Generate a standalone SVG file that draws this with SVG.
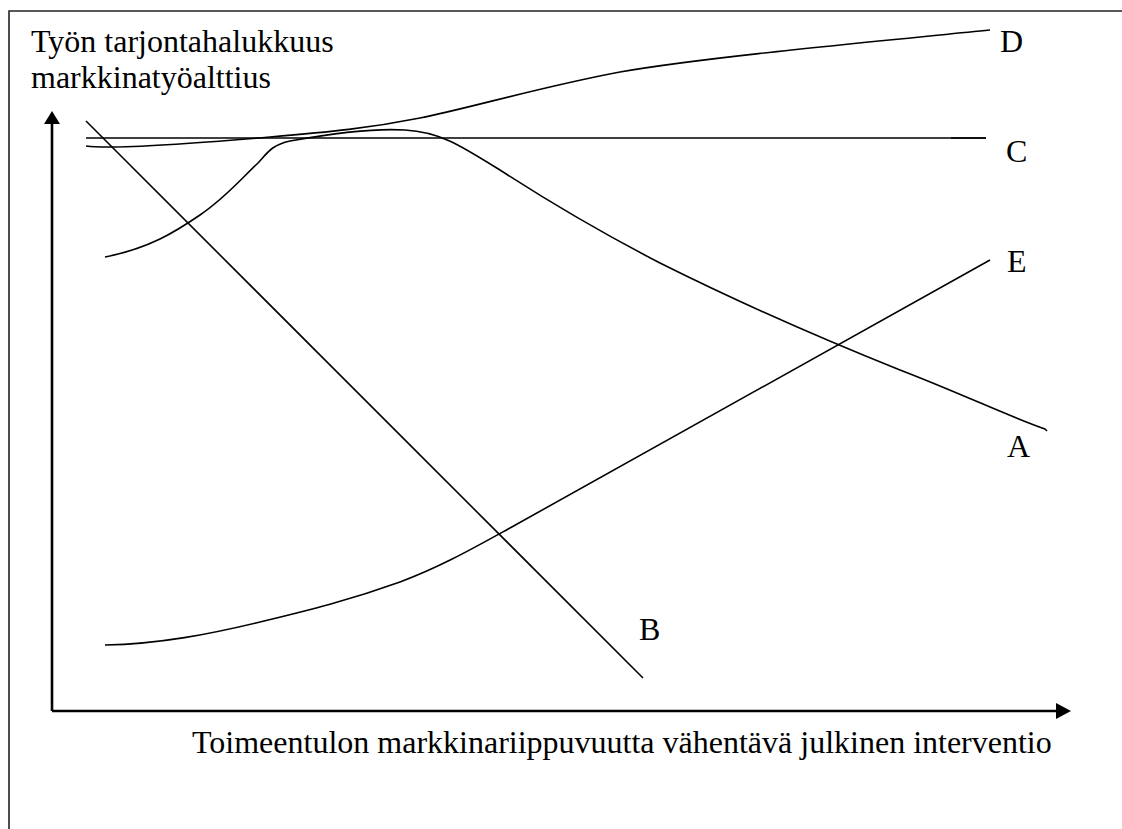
<svg xmlns="http://www.w3.org/2000/svg" width="1122" height="829" viewBox="0 0 1122 829">
<style>
text{font-family:"Liberation Serif","Times New Roman",serif;font-size:32px;fill:#000}
.curve{fill:none;stroke:#000;stroke-width:1.6;stroke-linecap:butt;stroke-linejoin:round}
.axis{fill:none;stroke:#000;stroke-width:2.6}
.frame{fill:none;stroke:#222;stroke-width:1.6}
</style>
<rect width="1122" height="829" fill="#fff"/>
<g id="frame"><path class="frame" d="M9,829 V11 H1122"/></g>
<g id="axes">
<path class="axis" d="M52,711 V122"/>
<path d="M44,124 L52,111 L60,124 Z" fill="#000"/>
<path class="axis" d="M52,711 H1057"/>
<path d="M1056,703 L1071,711 L1056,719 Z" fill="#000"/>
<text x="31" y="52">Työn tarjontahalukkuus</text>
<text x="31" y="88">markkinatyöalttius</text>
<text x="192" y="753">Toimeentulon markkinariippuvuutta vähentävä julkinen interventio</text>
</g>
<g id="curve-C">
<path class="curve" d="M86,138 H986"/>
<path class="curve" d="M951,138 H986" stroke-width="2.6"/>
<text x="1006" y="162">C</text>
</g>
<g id="curve-D">
<path class="curve" d="M86,146 C110,149 200,143 270,137 C330,132 370,128 420,118 C470,108 540,87 620,72 C700,58 850,44 990,30"/>
<text x="1000" y="52">D</text>
</g>
<g id="curve-A">
<path class="curve" d="M105,257 C150,248 175,232 200,215 C225,198 240,180 258,163 C268,152 272,145 290,141 C330,134 370,128 405,130 C440,132 460,145 500,170 C540,196 600,232 660,263 C720,293 800,330 900,370 C960,393 1010,417 1045,429 l2,2"/>
<text x="1007" y="457">A</text>
</g>
<g id="curve-B">
<path class="curve" d="M86,121 L643,678"/>
<text x="639" y="640">B</text>
</g>
<g id="curve-E">
<path class="curve" d="M105,645 C160,644 210,634 260,622 C310,610 350,600 400,582 C440,567 470,550 510,528 L990,260"/>
<text x="1007" y="272">E</text>
</g>
</svg>
